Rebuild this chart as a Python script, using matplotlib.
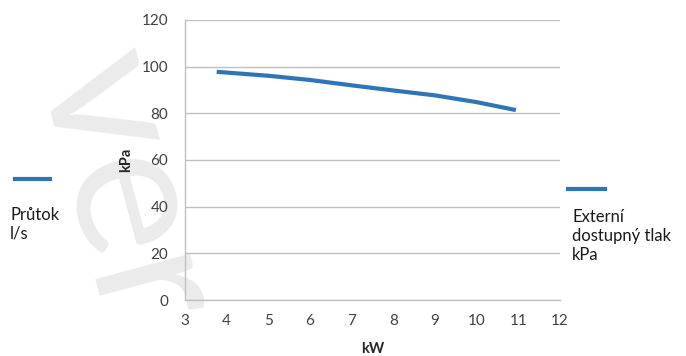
import matplotlib
matplotlib.use("Agg")
import matplotlib.pyplot as plt
from matplotlib.lines import Line2D

# Data
kw = [3.76, 5, 6, 7, 8, 9, 10, 10.94]
kpa = [97.8, 96.1, 94.3, 92.0, 89.8, 87.7, 84.8, 81.4]
x_ticks = [3, 4, 5, 6, 7, 8, 9, 10, 11, 12]
y_ticks = [0, 20, 40, 60, 80, 100, 120]
left_legend = "Průtok\nl/s"
right_legend = "Externí\ndostupný tlak\nkPa"
x_label = "kW"
y_label = "kPa"
watermark = "ver"

FONT = ["Lato", "DejaVu Sans"]
plt.rcParams["font.family"] = FONT
BLUE = "#2E75B6"
GRID = "#BFBFBF"

fig = plt.figure(figsize=(6.86, 3.56), dpi=100)
fig.patch.set_facecolor("white")

# watermark (behind everything)
fig.text(125 / 686, 1 - 190 / 356, watermark, rotation=-75, fontsize=140,
         fontweight="normal", color="#EBEBEB", ha="center", va="center",
         zorder=-5, rotation_mode="anchor")

ax = fig.add_axes([185 / 686, 1 - 300 / 356, (560 - 185) / 686, 280 / 356])
ax.set_zorder(2)
ax.patch.set_alpha(0)
ax.set_xlim(3, 12)
ax.set_ylim(0, 120)
ax.set_xticks(x_ticks)
ax.set_yticks(y_ticks)
ax.yaxis.grid(True, color=GRID, linewidth=1.0)
ax.set_axisbelow(True)
for s in ["top", "right"]:
    ax.spines[s].set_visible(False)
for s in ["left", "bottom"]:
    ax.spines[s].set_color(GRID)
    ax.spines[s].set_linewidth(1.0)
ax.tick_params(axis="both", length=0, labelsize=11, labelcolor="#404040")
ax.tick_params(axis="y", pad=12)
ax.tick_params(axis="x", pad=10)

ax.plot(kw, kpa, color=BLUE, linewidth=3.0, solid_capstyle="butt")

ax.set_xlabel(x_label, fontsize=10.5, fontweight="bold", color="#262626", labelpad=10)
ax.set_ylabel(y_label, fontsize=10.5, fontweight="bold", color="#262626", labelpad=6)

# left legend
fig.add_artist(Line2D([15 / 686, 50 / 686], [1 - 179 / 356] * 2,
                      color=BLUE, linewidth=3.0, transform=fig.transFigure))
fig.text(10 / 686, 1 - 224 / 356, left_legend, fontsize=12, color="#1a1a1a",
         ha="left", va="center", linespacing=1.2)

# right legend
fig.add_artist(Line2D([568 / 686, 605 / 686], [1 - 189 / 356] * 2,
                      color=BLUE, linewidth=3.0, transform=fig.transFigure))
fig.text(572 / 686, 1 - 236 / 356, right_legend, fontsize=12, color="#1a1a1a",
         ha="left", va="center", linespacing=1.2)

fig.savefig("out.png", dpi=100, facecolor="white")
